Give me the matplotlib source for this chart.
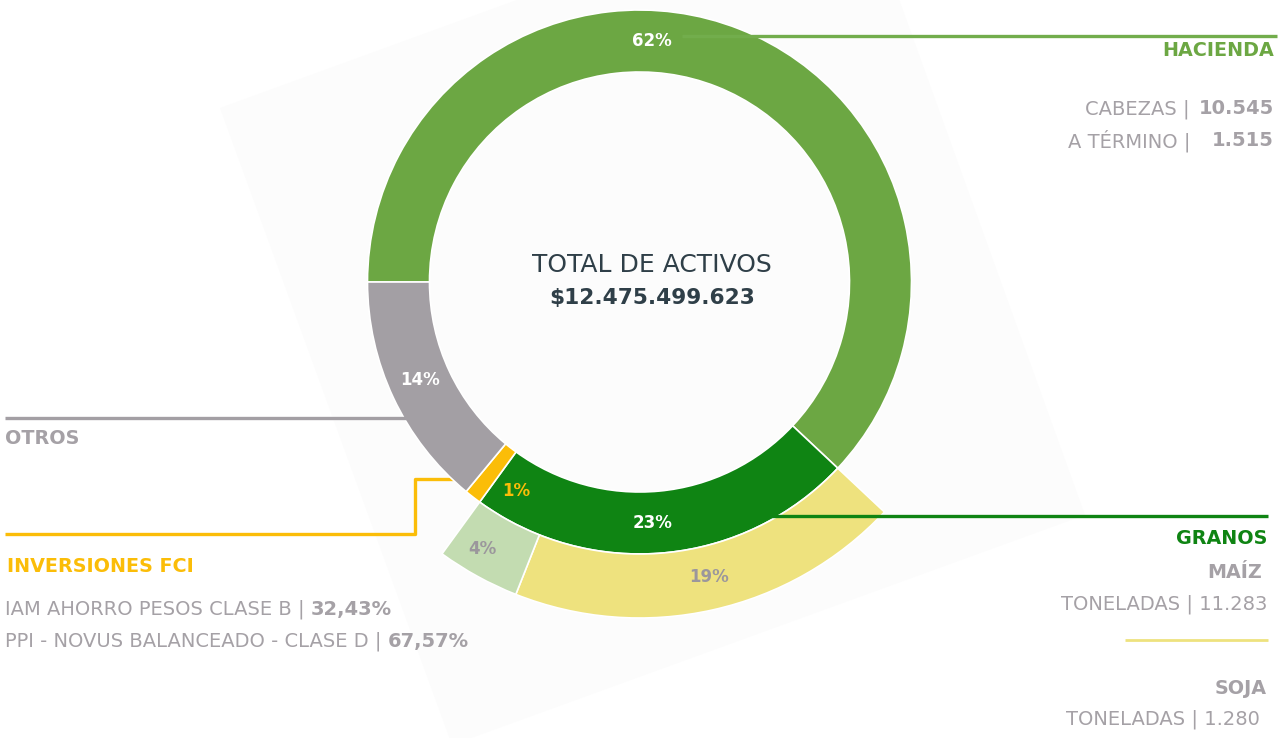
import matplotlib
matplotlib.use("Agg")
import numpy as np
import matplotlib.pyplot as plt
from matplotlib.patches import Polygon

# inner ring: share of total assets, clockwise from 9 o'clock
categories = ["HACIENDA", "GRANOS", "INVERSIONES FCI", "OTROS"]
shares = [62, 23, 1, 14]
# outer ring: split of GRANOS (soja, maiz)
grain_names = ["SOJA", "MAÍZ"]
grain_shares = [19, 4]

total_label = "TOTAL DE ACTIVOS"
total_value = "$12.475.499.623"

hacienda_rows = [("CABEZAS |", "10.545"), ("A TÉRMINO |", "1.515")]
fci_rows = [("IAM AHORRO PESOS CLASE B | ", "32,43%"),
            ("PPI - NOVUS BALANCEADO - CLASE D | ", "67,57%")]
maiz_row = ("TONELADAS | ", "11.283")
soja_row = ("TONELADAS | ", "1.280")

C_HAC = "#6ca743"
C_GRA = "#0f8413"
C_FCI = "#fbbd08"
C_OTR = "#a39fa4"
C_MAIZ = "#c3dcb1"
C_SOJA = "#eee27e"
C_TXT = "#a5a1a6"
C_DARK = "#2f3f48"

W, H = 1286, 738
fig = plt.figure(figsize=(W / 100, H / 100), dpi=100)
ax = fig.add_axes([0, 0, 1, 1])
plt.rcParams['font.family'] = ['DejaVu Sans']


def Y(y):
    # picture rows run downward
    return H - y


# faint tilted backdrop
ax.add_patch(Polygon([(220, Y(108)), (855, Y(-123)), (1085, Y(515)), (452, Y(745))],
                     closed=True, facecolor="#fcfcfc", edgecolor="none", zorder=0))

cx, cy = 639.5, Y(282)
r_in, r_out, ring = 272, 336, 62

wedges, _ = ax.pie(shares, radius=r_in, center=(cx, cy), startangle=180,
                   counterclock=False, colors=[C_HAC, C_GRA, C_FCI, C_OTR],
                   wedgeprops=dict(width=ring, edgecolor="white", linewidth=1.2))
for w in wedges:
    w.set_zorder(2)

rest_before = shares[0]
rest_after = sum(shares[2:])
outer_vals = [rest_before] + grain_shares + [rest_after]
owedges, _ = ax.pie(outer_vals, radius=r_out, center=(cx, cy), startangle=180,
                    counterclock=False, colors=["none", C_SOJA, C_MAIZ, "none"],
                    wedgeprops=dict(width=r_out - r_in, edgecolor="white", linewidth=1.2))
owedges[0].set_visible(False)
owedges[-1].set_visible(False)
for w in owedges:
    w.set_zorder(2)

ax.set_xlim(0, W)
ax.set_ylim(0, H)
ax.set_aspect("equal")
ax.axis("off")


def polar(angle, r):
    a = np.deg2rad(angle)
    return cx + r * np.cos(a), cy + r * np.sin(a)


# percentage labels: (value, angle, radius, colour)
pct_labels = [(shares[0], 87, 241, "white"), (shares[1], -87, 241, "white"),
              (shares[2], -120.5, 242, C_FCI), (shares[3], 204, 240, "white"),
              (grain_shares[0], -76.7, 303, "#9b979c"), (grain_shares[1], -120.5, 310, "#9b979c")]
for v, ang, r, col in pct_labels:
    x, y = polar(ang, r)
    ax.text(x, y, f"{v}%", color=col, fontsize=12, fontweight="bold",
            ha="center", va="center", zorder=4)

# centre
ax.text(652, Y(265), total_label, color=C_DARK, fontsize=18, ha="center", va="center")
ax.text(652, Y(298), total_value, color=C_DARK, fontsize=15.6, fontweight="bold",
        ha="center", va="center")

# leader lines
ax.plot([682, 1277], [Y(36), Y(36)], color="#72ad4c", lw=2.4, zorder=3, solid_capstyle="butt")
ax.plot([5, 438], [Y(418), Y(418)], color=C_OTR, lw=2.4, zorder=3, solid_capstyle="butt")
ax.plot([5, 415, 415, 478], [Y(534), Y(534), Y(479), Y(479)], color=C_FCI, lw=2.4,
        zorder=1.5, solid_capstyle="butt")
ax.plot([670, 1268], [Y(516), Y(516)], color=C_GRA, lw=2.4, zorder=3, solid_capstyle="butt")
ax.plot([1125, 1268], [Y(640), Y(640)], color=C_SOJA, lw=2.0, zorder=3, solid_capstyle="butt")

fs = 14
hs = 13.8
# HACIENDA block
ax.text(1274, Y(50), categories[0], color=C_HAC, fontsize=hs, fontweight="bold", ha="right", va="center")
for i, (lab, val) in enumerate(hacienda_rows):
    yy = Y(109 + 32 * i)
    ax.text(1190, yy, lab, color=C_TXT, fontsize=fs, ha="right", va="center")
    ax.text(1274, yy, val, color=C_TXT, fontsize=fs, fontweight="bold", ha="right", va="center")

# OTROS
ax.text(5, Y(438), categories[3], color=C_TXT, fontsize=hs, fontweight="bold", ha="left", va="center")

# INVERSIONES FCI
ax.text(7, Y(566), categories[2], color=C_FCI, fontsize=hs, fontweight="bold",
        ha="left", va="center")
renderer = fig.canvas.get_renderer()
for i, (lab, val) in enumerate(fci_rows):
    yy = Y(609 + 32 * i)
    t = ax.text(5, yy, lab, color=C_TXT, fontsize=fs, ha="left", va="center")
    x_end = t.get_window_extent(renderer).x1
    ax.text(x_end, yy, val, color=C_TXT, fontsize=fs, fontweight="bold", ha="left", va="center")

# GRANOS
ax.text(1267, Y(538), categories[1], color=C_GRA, fontsize=hs, fontweight="bold",
        ha="right", va="center")
ax.text(1262, Y(573), grain_names[1], color=C_TXT, fontsize=hs, fontweight="bold",
        ha="right", va="center")
ax.text(1267, Y(604), maiz_row[0] + maiz_row[1], color=C_TXT, fontsize=fs, ha="right", va="center")
ax.text(1267, Y(689), grain_names[0], color=C_TXT, fontsize=hs, fontweight="bold",
        ha="right", va="center")
ax.text(1260, Y(719), soja_row[0] + soja_row[1], color=C_TXT, fontsize=fs, ha="right", va="center")

fig.savefig("out.png", dpi=100, facecolor="white")
